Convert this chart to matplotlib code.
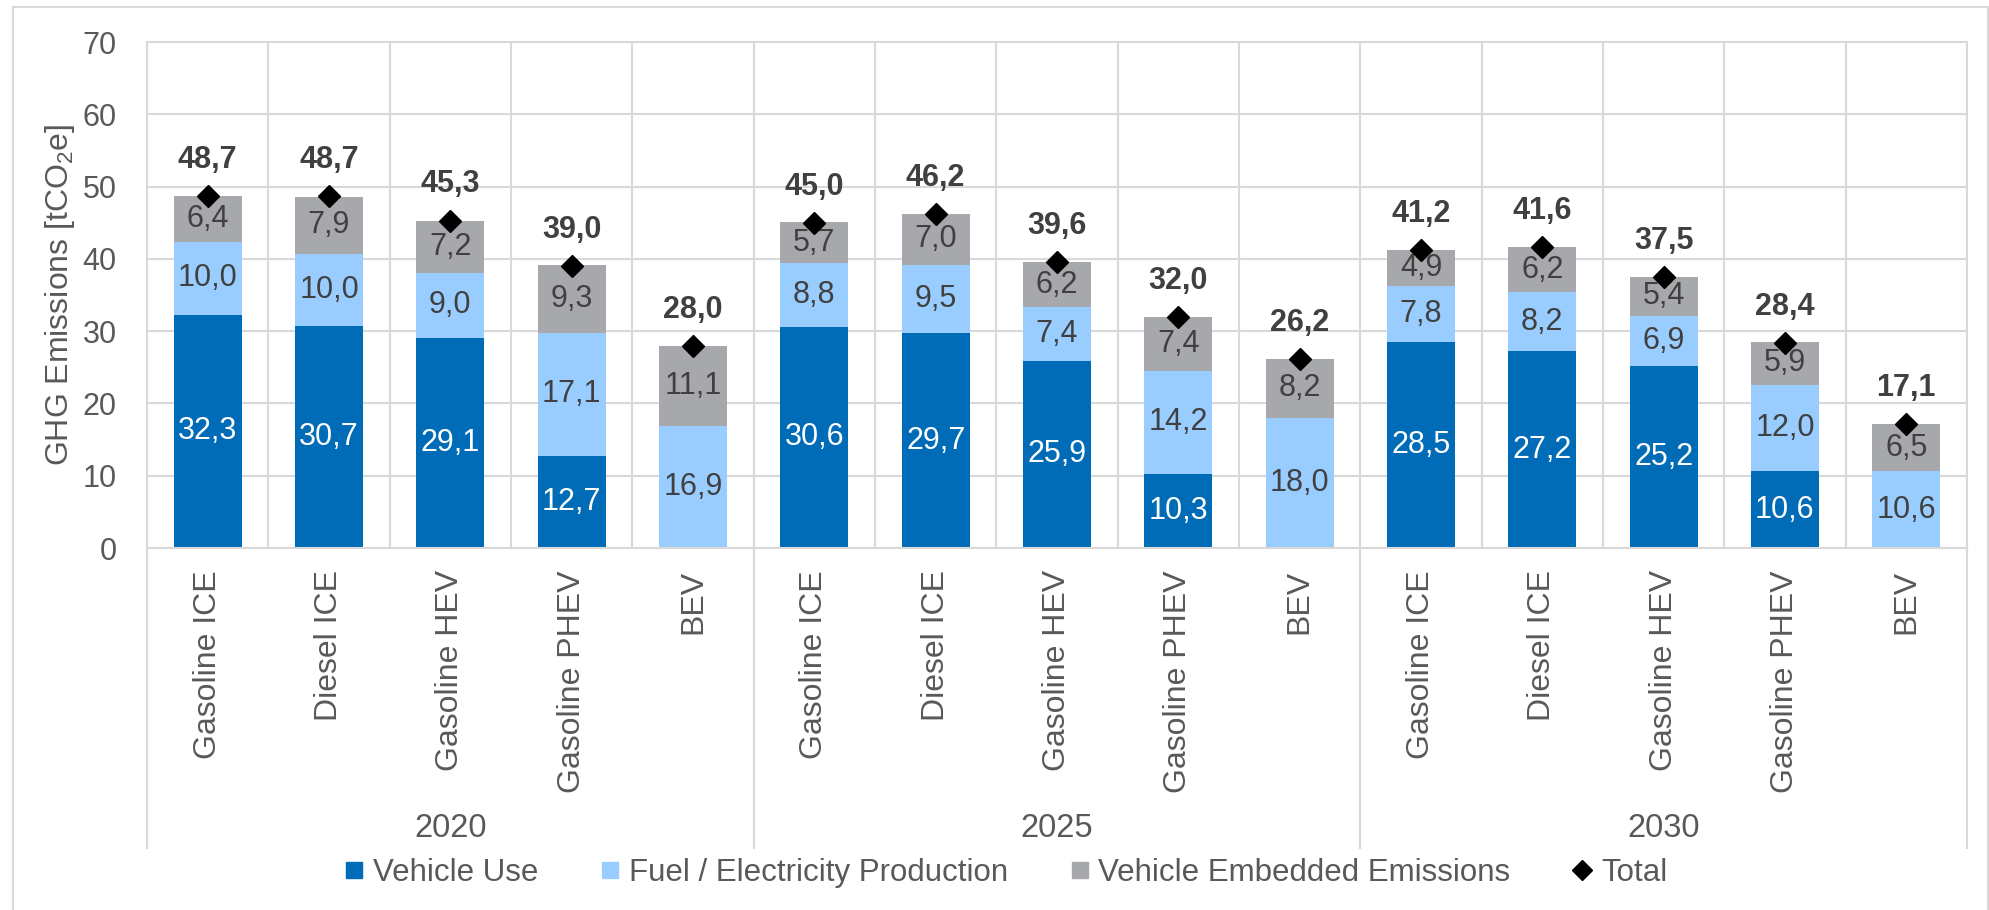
import matplotlib.pyplot as plt
from matplotlib.lines import Line2D
from matplotlib.patches import Rectangle
import numpy as np

plt.rcParams["font.family"] = ["Liberation Sans", "DejaVu Sans"]

# ========= data =========
years = ["2020", "2025", "2030"]
vehicles = ["Gasoline ICE", "Diesel ICE", "Gasoline HEV", "Gasoline PHEV", "BEV"]

vehicle_use = [32.3, 30.7, 29.1, 12.7, 0.0,
               30.6, 29.7, 25.9, 10.3, 0.0,
               28.5, 27.2, 25.2, 10.6, 0.0]
fuel_production = [10.0, 10.0, 9.0, 17.1, 16.9,
                   8.8, 9.5, 7.4, 14.2, 18.0,
                   7.8, 8.2, 6.9, 12.0, 10.6]
embedded = [6.4, 7.9, 7.2, 9.3, 11.1,
            5.7, 7.0, 6.2, 7.4, 8.2,
            4.9, 6.2, 5.4, 5.9, 6.5]
totals = [48.7, 48.7, 45.3, 39.0, 28.0,
          45.0, 46.2, 39.6, 32.0, 26.2,
          41.2, 41.6, 37.5, 28.4, 17.1]

# ========= style =========
C_USE = "#006BB6"
C_FUEL = "#99CCFF"
C_EMB = "#A7A8AB"
GRID = "#D9D9D9"
TXT = "#595959"
LBL = "#404040"


def fmt(v):
    return f"{v:.1f}".replace(".", ",")


fig = plt.figure(figsize=(19.9, 9.1), dpi=100)
ax = fig.add_axes([0.0739, 0.3978, 0.9145, 0.556])

n = len(vehicle_use)
x = np.arange(n)
use = np.array(vehicle_use)
fuel = np.array(fuel_production)
emb = np.array(embedded)
w = 0.56

ax.bar(x, use, w, color=C_USE, zorder=2)
ax.bar(x, fuel, w, bottom=use, color=C_FUEL, zorder=2)
ax.bar(x, emb, w, bottom=use + fuel, color=C_EMB, zorder=2)
ax.plot(x, totals, linestyle="none", marker="D", markersize=11,
        color="black", zorder=4)

# segment labels
for i in range(n):
    if use[i] > 0:
        ax.text(x[i], use[i] / 2, fmt(use[i]), ha="center", va="center",
                fontsize=22, color="white", zorder=3)
    ax.text(x[i], use[i] + fuel[i] / 2, fmt(fuel[i]), ha="center", va="center",
            fontsize=22, color=LBL, zorder=3)
    ax.text(x[i], use[i] + fuel[i] + emb[i] / 2, fmt(emb[i]), ha="center",
            va="center", fontsize=22, color=LBL, zorder=3)
    ax.annotate(fmt(totals[i]), (x[i], totals[i]), xytext=(0, 26),
                textcoords="offset points", ha="center", va="center",
                fontsize=22, fontweight="bold", color=LBL, zorder=3)

# axes
ax.set_xlim(-0.5, n - 0.5)
ax.set_ylim(0, 70)
ax.set_yticks(range(0, 71, 10))
ax.set_xticks(x)
ax.set_xticklabels(vehicles * len(years), rotation=90, fontsize=23,
                   color=TXT, va="top", ha="center")
ax.set_xticks(np.arange(-0.5, n, 1.0), minor=True)
ax.tick_params(axis="x", which="both", length=0, pad=16)
ax.tick_params(axis="y", length=0, pad=22, labelsize=22, labelcolor=TXT)
ax.grid(axis="y", color=GRID, linewidth=1.5, zorder=0)
ax.grid(axis="x", which="minor", color=GRID, linewidth=1.5, zorder=0)
ax.grid(axis="x", which="major", visible=False)
for s in ax.spines.values():
    s.set_color(GRID)
    s.set_linewidth(1.5)

ax.set_ylabel(r"GHG Emissions [tCO$_\mathregular{2}$e]", fontsize=23,
              color=TXT, labelpad=4)

# year group separators and labels
tr = ax.get_xaxis_transform()
for b in np.arange(-0.5, n, len(vehicles)):
    ax.add_line(Line2D([b, b], [0, -0.593], transform=tr, color=GRID,
                       linewidth=1.5, clip_on=False))
for k, yr in enumerate(years):
    cx = k * len(vehicles) + (len(vehicles) - 1) / 2
    ax.text(cx, -0.555, yr, transform=tr, ha="center", va="center",
            fontsize=23.5, color=TXT)

# legend
handles = [
    Line2D([], [], linestyle="none", marker="s", markersize=12,
           color=C_USE, label="Vehicle Use"),
    Line2D([], [], linestyle="none", marker="s", markersize=12,
           color=C_FUEL, label="Fuel / Electricity Production"),
    Line2D([], [], linestyle="none", marker="s", markersize=12,
           color=C_EMB, label="Vehicle Embedded Emissions"),
    Line2D([], [], linestyle="none", marker="D", markersize=10,
           color="black", label="Total"),
]
fig.legend(handles=handles, loc="center", bbox_to_anchor=(0.5055, 0.0407),
           ncol=4, frameon=False, fontsize=22.5, labelcolor=TXT,
           handlelength=0.6, handletextpad=0.3, columnspacing=2.0)

# outer frame
fig.patches.append(Rectangle((0.0065, -0.01), 0.9925, 1.0023,
                             transform=fig.transFigure, fill=False,
                             edgecolor=GRID, linewidth=1.5))

fig.savefig("out.png", dpi=100)
